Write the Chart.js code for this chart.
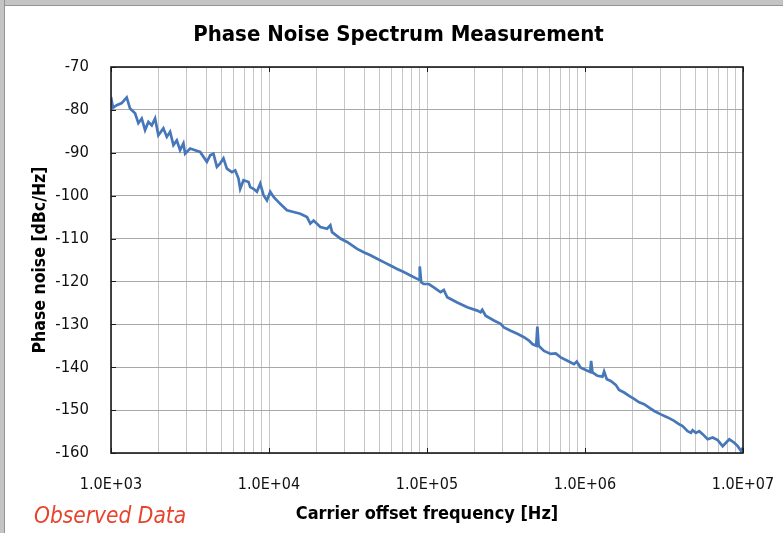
<!DOCTYPE html>
<html><head><meta charset="utf-8">
<script src="https://cdn.jsdelivr.net/npm/chart.js@4.4.1/dist/chart.umd.min.js"></script>
<style>
html,body{margin:0;padding:0;background:#fff;}
#wrap{position:relative;width:783px;height:533px;overflow:hidden;background:#fff;}
#topbar{position:absolute;left:0;top:0;width:783px;height:5px;background:#c4c4c4;border-bottom:1px solid #939393;}
#leftbar{position:absolute;left:0;top:0;width:4px;height:533px;background:#c4c4c4;border-right:1px solid #939393;}
#c{position:absolute;left:0;top:0;}
#title{position:absolute;left:0;top:19px;width:797px;text-align:center;font-family:"Liberation Sans Narrow","Arial Narrow","DejaVu Sans Condensed",sans-serif;font-weight:bold;font-size:22px;line-height:30px;color:#000;white-space:nowrap;}
#note{position:absolute;left:34px;top:501px;font-family:"Liberation Sans Narrow","Arial Narrow","DejaVu Sans Condensed",sans-serif;font-style:italic;font-size:22.5px;color:#e8432d;line-height:28px;white-space:nowrap;}
</style>
</head><body>
<div id="wrap">
  <div id="topbar"></div><div id="leftbar"></div>
  <canvas id="c" width="783" height="533"></canvas>
  <div id="title"></div>
  <div id="note">Observed Data</div>
</div>
<script>
const chartTitle = 'Phase Noise Spectrum Measurement';
const xAxisTitle = 'Carrier offset frequency [Hz]';
const yAxisTitle = 'Phase noise [dBc/Hz]';
const xTickValues = [1e3, 1e4, 1e5, 1e6, 1e7];
const xTickLabels = ['1.0E+03', '1.0E+04', '1.0E+05', '1.0E+06', '1.0E+07'];
const yTickValues = [-70, -80, -90, -100, -110, -120, -130, -140, -150, -160];

const freqHz = [1000,1030,1087,1169,1257,1320,1420,1490,1565,1643,
1724,1811,1901,1994,2145,2255,2366,2483,2609,2737,
2873,2945,3168,3409,3666,4044,4243,4451,4679,4909,
5151,5413,5823,6109,6412,6572,6897,7421,7605,7982,
8386,8800,9235,9705,10180,10690,11490,12080,13000,14310,
15780,17400,18260,19160,21130,23310,24450,25070,28290,31190,
33560,36110,39760,43850,48340,53210,58690,64740,71290,78610,
86690,89000,90000,91900,95430,102700,110400,121800,127800,134300,
155400,179800,208100,218300,223800,234900,265200,292400,306800,338400,
373100,410900,442000,464500,490900,499600,509100,550100,606700,652500,
702000,774000,852300,886500,939700,1036000,1080000,1093000,1115000,1199000,
1290000,1321000,1374000,1456000,1566000,1644000,1769000,1902000,2046000,2201000,
2368000,2547000,2740000,3021000,3332000,3668000,3947000,4148000,4461000,4682000,
4799000,5035000,5284000,5553000,5973000,6425000,6912000,7435000,7802000,8187000,
8808000,9256000,9712000,10000000];

const phaseNoise = [-77.0,-79.5,-78.9,-78.4,-77.1,-79.7,-80.8,-83.1,-82.0,-84.7,
-82.8,-83.6,-82.0,-85.9,-84.3,-86.3,-85.1,-88.2,-87.1,-89.4,
-87.8,-90.2,-89.0,-89.4,-89.8,-92.1,-90.6,-90.2,-93.3,-92.5,
-91.3,-93.7,-94.5,-94.1,-96.0,-98.4,-96.4,-96.8,-98.0,-98.4,
-99.1,-97.2,-99.9,-101.1,-99.1,-100.3,-101.5,-102.3,-103.4,-103.8,
-104.2,-105.0,-106.5,-105.8,-107.3,-107.7,-106.9,-108.5,-110.0,-110.8,
-111.6,-112.4,-113.2,-113.9,-114.7,-115.5,-116.3,-117.1,-117.8,-118.6,
-119.4,-119.6,-116.5,-120.2,-120.6,-120.6,-121.4,-122.5,-122.0,-123.7,
-124.9,-126.0,-126.8,-127.2,-126.6,-128.0,-129.1,-129.9,-130.7,-131.5,
-132.2,-133.0,-133.8,-134.6,-135.0,-130.5,-135.0,-136.2,-136.9,-136.8,
-137.7,-138.5,-139.3,-138.7,-140.1,-140.8,-141.1,-138.5,-141.2,-142.0,
-142.2,-141.0,-142.8,-143.2,-144.1,-145.3,-145.9,-146.7,-147.4,-148.2,
-148.6,-149.4,-150.2,-151.0,-151.7,-152.5,-153.3,-153.7,-154.9,-155.3,
-154.7,-155.3,-154.9,-155.6,-156.8,-156.4,-157.0,-158.4,-157.6,-156.8,
-157.6,-158.4,-159.5,-158.8];

const FF = '"Liberation Sans Narrow","Arial Narrow","DejaVu Sans Condensed",sans-serif';
document.getElementById('title').textContent = chartTitle;

// log grid lines: 1..9 x each decade
const xGridValues = [];
for (let d = 0; d < xTickValues.length - 1; d++) {
  for (let k = 1; k <= 9; k++) xGridValues.push(xTickValues[d] * k);
}
xGridValues.push(xTickValues[xTickValues.length - 1]);

const framePlugin = {
  id: 'frame',
  afterDraw(chart) {
    const {ctx, chartArea: a, scales: {x, y}} = chart;
    ctx.save();
    ctx.strokeStyle = '#1a1a1a';
    ctx.lineWidth = 1;
    yTickValues.forEach(v => {
      const py = Math.round(y.getPixelForValue(v)) + 0.5;
      ctx.beginPath(); ctx.moveTo(a.left, py); ctx.lineTo(a.left + 5, py); ctx.stroke();
    });
    xTickValues.forEach(v => {
      const px = Math.round(x.getPixelForValue(v)) + 0.5;
      ctx.beginPath(); ctx.moveTo(px, a.bottom); ctx.lineTo(px, a.bottom - 5); ctx.stroke();
      ctx.beginPath(); ctx.moveTo(px, a.top); ctx.lineTo(px, a.top + 5); ctx.stroke();
    });
    ctx.lineWidth = 1.6;
    ctx.strokeRect(a.left, a.top, a.right - a.left, a.bottom - a.top);
    ctx.restore();
  }
};

new Chart(document.getElementById('c'), {
  type: 'line',
  data: {
    datasets: [{
      data: freqHz.map((f, i) => ({x: f, y: phaseNoise[i]})),
      borderColor: '#4677b8',
      borderWidth: 2.7,
      pointRadius: 0,
      tension: 0,
      fill: false
    }]
  },
  options: {
    responsive: false,
    animation: false,
    devicePixelRatio: 1,
    layout: {padding: {left: 0, right: 40, top: 67, bottom: 0}},
    plugins: {
      legend: {display: false},
      tooltip: {enabled: false},
      title: {display: false}
    },
    scales: {
      x: {
        type: 'logarithmic', min: 1e3, max: 1e7,
        afterBuildTicks(s) { s.ticks = xGridValues.map(v => ({value: v})); },
        afterFit(s) { s.height = 80; s.paddingLeft = 0; s.paddingRight = 0; },
        ticks: {
          autoSkip: false, maxRotation: 0, minRotation: 0, padding: 22, color: '#111',
          font: {family: FF, size: 16},
          callback(v) { const i = xTickValues.indexOf(v); return i >= 0 ? xTickLabels[i] : ''; }
        },
        grid: {color: '#c6c6c6', lineWidth: 1, drawTicks: false},
        border: {display: false},
        title: {display: true, text: xAxisTitle, color: '#000',
          font: {family: FF, size: 18, weight: 'bold', lineHeight: 1.2},
          padding: {top: 0, bottom: 8}}
      },
      y: {
        type: 'linear', min: -160, max: -70,
        afterBuildTicks(s) { s.ticks = yTickValues.map(v => ({value: v})); },
        afterFit(s) { s.width = 111; s.paddingTop = 0; s.paddingBottom = 0; },
        ticks: {padding: 22, color: '#111', font: {family: FF, size: 16.5}},
        grid: {color: '#a8a8a8', lineWidth: 1, drawTicks: false},
        border: {display: false},
        title: {display: true, text: yAxisTitle, color: '#000',
          font: {family: FF, size: 17.5, weight: 'bold', lineHeight: 1.2},
          padding: {top: 30, bottom: 0}}
      }
    }
  },
  plugins: [framePlugin]
});
</script>
</body></html>
